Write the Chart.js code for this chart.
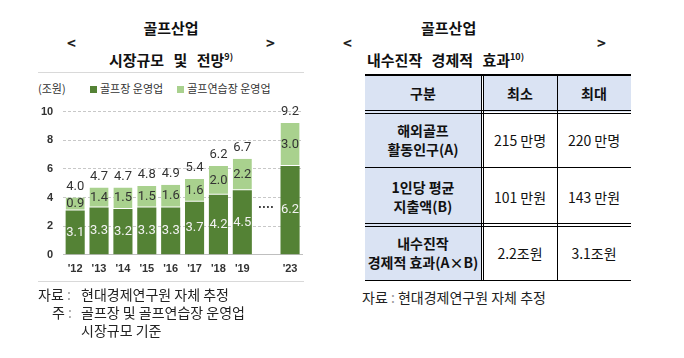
<!DOCTYPE html>
<html>
<head>
<meta charset="utf-8">
<script src="https://cdn.jsdelivr.net/npm/chart.js@4"></script>
<style>
  body { margin: 0; width: 684px; height: 358px; background: #fff; position: relative; overflow: hidden;
         font-family: 'Noto Sans CJK KR', sans-serif; color: #222; }
  .abs { position: absolute; white-space: nowrap; }
  .ttl { font-weight: bold; font-size: 15px; line-height: 20px; color: #111; }
  .arrow { font-weight: bold; font-size: 15px; }
  sup { font-size: 9px; vertical-align: 6px; }
  .hr { position: absolute; height: 1px; background: #d9d9d9; }
  .note { font-size: 14px; line-height: 18px; color: #222; }
  .leg { font-size: 11px; color: #333; }
  .sq { display: inline-block; width: 7px; height: 7px; margin-right: 3px; vertical-align: 0px; }
  .cell { position: absolute; display: flex; align-items: center; justify-content: center; text-align: center;
          font-size: 14px; line-height: 19px; color: #111; }
  .hd { background: #dae3f3; font-weight: bold; }
  .ln { position: absolute; background: #000; }
</style>
</head>
<body>
<!-- left panel -->
<div class="abs ttl" style="left:0;width:342px;top:18px;text-align:center;">골프산업</div>
<div class="abs ttl" style="left:0;width:342px;top:47px;text-align:center;word-spacing:6px;">시장규모 및 전망<sup>9)</sup></div>
<div class="abs arrow" style="left:67px;top:32px;">&lt;</div>
<div class="abs arrow" style="left:266px;top:32px;">&gt;</div>
<div class="hr" style="left:38px;width:266px;top:72px;"></div>
<div class="abs leg" style="left:38px;top:80px;">(조원)</div>
<div class="abs leg" id="legend" style="left:90px;top:80px;"></div>

<div style="position:absolute;left:30px;top:95px;width:285px;height:189px;">
  <canvas id="golfChart"></canvas>
</div>

<div class="hr" style="left:38px;width:266px;top:281px;"></div>
<div class="abs note" style="left:38px;top:285px;">자료 <span style="color:#999">:</span></div>
<div class="abs note" style="left:81px;top:285px;">현대경제연구원 자체 추정</div>
<div class="abs note" style="left:52px;top:303px;">주 <span style="color:#999">:</span></div>
<div class="abs note" style="left:81px;top:303px;">골프장 및 골프연습장 운영업</div>
<div class="abs note" style="left:81px;top:321px;">시장규모 기준</div>

<!-- right panel -->
<div class="abs ttl" style="left:421px;top:18px;">골프산업</div>
<div class="abs ttl" style="left:367px;top:47px;word-spacing:6px;">내수진작 경제적 효과<sup>10)</sup></div>
<div class="abs arrow" style="left:343px;top:32px;">&lt;</div>
<div class="abs arrow" style="left:597px;top:32px;">&gt;</div>
<div id="tbl"></div>
<div class="abs note" style="left:362px;top:288px;">자료 <span style="color:#999">:</span> 현대경제연구원 자체 추정</div>

<script>
const DARK_GREEN = '#548235';
const LIGHT_GREEN = '#a9d18e';

const years = ["'12", "'13", "'14", "'15", "'16", "'17", "'18", "'19", '', "'23"];
const courseValues = [3.1, 3.3, 3.2, 3.3, 3.3, 3.7, 4.2, 4.5, null, 6.2];
const rangeValues = [0.9, 1.4, 1.5, 1.5, 1.6, 1.6, 2.0, 2.2, null, 3.0];
const totalLabels = ['4.0', '4.7', '4.7', '4.8', '4.9', '5.4', '6.2', '6.7', null, '9.2'];
const seriesNames = ['골프장 운영업', '골프연습장 운영업'];
const yTicks = [0, 2, 4, 6, 8, 10];
const gapIndex = 8;
const gapLevel = 3.3;

// table content
const tableHeaders = ['구분', '최소', '최대'];
const rowNames = ['해외골프<br>활동인구(A)', '1인당 평균<br>지출액(B)', '내수진작<br>경제적 효과(A×B)'];
const minValues = ['215 만명', '101 만원', '2.2조원'];
const maxValues = ['220 만명', '143 만원', '3.1조원'];

document.getElementById('legend').innerHTML =
    '<span class="sq" style="background:' + DARK_GREEN + '"></span>' + seriesNames[0] +
    '<span style="display:inline-block;width:14px"></span>' +
    '<span class="sq" style="background:' + LIGHT_GREEN + '"></span>' + seriesNames[1];

const NUM_FONT = "13px 'Liberation Sans Narrow', 'Roboto', sans-serif";

const barLabels = {
    id: 'barLabels',
    afterDatasetsDraw(chart) {
        const ctx = chart.ctx;
        ctx.save();
        ctx.font = NUM_FONT;
        ctx.textAlign = 'center';
        ctx.textBaseline = 'middle';
        chart.data.datasets.forEach((ds, di) => {
            const meta = chart.getDatasetMeta(di);
            meta.data.forEach((bar, i) => {
                if (ds.data[i] == null) return;
                ctx.fillStyle = di === 0 ? '#f2f2f2' : '#333';
                ctx.fillText(ds.data[i].toFixed(1), bar.x, (bar.y + bar.base) / 2);
            });
        });
        const top = chart.getDatasetMeta(1);
        ctx.fillStyle = '#333';
        top.data.forEach((bar, i) => {
            if (totalLabels[i] == null) return;
            ctx.fillText(totalLabels[i], bar.x, bar.y - 11);
        });
        const xs = chart.scales.x, ys = chart.scales.y;
        ctx.font = "bold 12px 'Liberation Sans', sans-serif";
        ctx.fillText('····', xs.getPixelForValue(gapIndex), ys.getPixelForValue(gapLevel));
        ctx.restore();
    }
};

const tickFont = { family: "'Liberation Sans', sans-serif", size: 11, weight: 'bold' };

new Chart(document.getElementById('golfChart'), {
    type: 'bar',
    data: {
        labels: years,
        datasets: [{
            label: seriesNames[0],
            data: courseValues,
            backgroundColor: DARK_GREEN,
            barPercentage: 0.8,
            categoryPercentage: 1
        }, {
            label: seriesNames[1],
            data: rangeValues,
            backgroundColor: LIGHT_GREEN,
            borderColor: '#ffffff',
            borderWidth: { bottom: 1, top: 0, left: 0, right: 0 },
            borderSkipped: false,
            barPercentage: 0.8,
            categoryPercentage: 1
        }]
    },
    options: {
        responsive: true,
        maintainAspectRatio: false,
        animation: false,
        layout: { padding: { left: 1, top: 15, right: 13, bottom: 0 } },
        plugins: { legend: { display: false }, tooltip: { enabled: false } },
        scales: {
            x: {
                stacked: true,
                grid: { display: false, drawTicks: false },
                border: { color: '#bfbfbf' },
                ticks: { color: '#333', font: tickFont, padding: 8 }
            },
            y: {
                stacked: true,
                min: 0,
                max: 10,
                afterBuildTicks: (axis) => { axis.ticks = yTicks.map(v => ({ value: v })); },
                grid: { color: '#c8c8c8', drawTicks: false },
                border: { display: false, dash: [3, 2] },
                ticks: { color: '#333', font: tickFont, padding: 10 }
            }
        }
    },
    plugins: [barLabels]
});

// table
const tbl = document.getElementById('tbl');
const colX = [365, 483, 557, 631];
const rowY = [74, 112, 168, 226, 280];
let html = '';
for (let r = 0; r < 4; r++) {
    for (let c = 0; c < 3; c++) {
        let x0 = colX[c], x1 = c === 0 ? 481 : colX[c + 1];
        let y0 = rowY[r], y1 = rowY[r + 1];
        let text, cls = 'cell';
        if (r === 0) { text = tableHeaders[c]; cls += ' hd'; }
        else if (c === 0) { text = rowNames[r - 1]; cls += ' hd'; }
        else text = c === 1 ? minValues[r - 1] : maxValues[r - 1];
        html += '<div class="' + cls + '" style="left:' + x0 + 'px;top:' + y0 + 'px;width:' + (x1 - x0) + 'px;height:' + (y1 - y0) + 'px;">' + text + '</div>';
    }
}
// horizontal lines
const hLines = [[74, 1.5], [110, 1], [112.5, 1], [167, 1], [223, 1], [225.5, 1], [279.5, 1.5]];
hLines.forEach(([y, h]) => { html += '<div class="ln" style="left:365px;width:266px;top:' + y + 'px;height:' + h + 'px;"></div>'; });
// vertical lines
[[480.5], [483], [556.5]].forEach(([x]) => { html += '<div class="ln" style="left:' + x + 'px;width:1px;top:74px;height:206px;"></div>'; });
tbl.innerHTML = html;
</script>
</body>
</html>
